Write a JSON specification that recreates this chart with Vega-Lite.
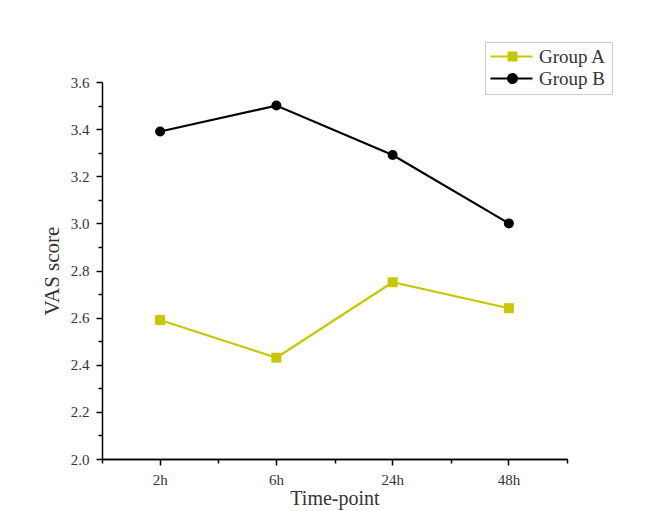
{
  "$schema": "https://vega.github.io/schema/vega-lite/v6.json",
  "autosize": "none",
  "padding": {"left": 102, "top": 82, "right": 78, "bottom": 52},
  "width": 465,
  "height": 377,
  "background": "white",
  "config": {
    "view": {"stroke": null},
    "font": "Liberation Serif"
  },
  "data": {
    "values": [
      {"time": "2h", "group": "Group A", "score": 2.59},
      {"time": "6h", "group": "Group A", "score": 2.43},
      {"time": "24h", "group": "Group A", "score": 2.75},
      {"time": "48h", "group": "Group A", "score": 2.64},
      {"time": "2h", "group": "Group B", "score": 3.39},
      {"time": "6h", "group": "Group B", "score": 3.50},
      {"time": "24h", "group": "Group B", "score": 3.29},
      {"time": "48h", "group": "Group B", "score": 3.00}
    ]
  },
  "encoding": {
    "y": {
      "field": "score",
      "type": "quantitative",
      "scale": {"domain": [2.0, 3.6], "nice": false, "zero": false},
      "axis": {
        "title": "VAS score",
        "values": [2.0, 2.1, 2.2, 2.3, 2.4, 2.5, 2.6, 2.7, 2.8, 2.9, 3.0, 3.1, 3.2, 3.3, 3.4, 3.5, 3.6],
        "labelExpr": "round(datum.value*10) % 2 === 0 ? format(datum.value, '.1f') : ''",
        "tickSize": {"condition": {"test": "round(datum.value*10) % 2 === 1", "value": 4}, "value": 6},
        "grid": false,
        "domainColor": "#000000",
        "domainWidth": 1.5,
        "tickColor": "#000000",
        "tickWidth": 1.5,
        "labelFont": "Liberation Serif",
        "labelFontSize": 15,
        "labelColor": "#333333",
        "labelPadding": 7,
        "titleFont": "Liberation Serif",
        "titleFontSize": 21,
        "titleFontWeight": "normal",
        "titleColor": "#333333",
        "titlePadding": 8
      }
    },
    "color": {
      "field": "group",
      "type": "nominal",
      "scale": {"domain": ["Group A", "Group B"], "range": ["#c8c800", "#000000"]},
      "legend": {
        "title": null,
        "orient": "none",
        "legendX": 383,
        "legendY": -40,
        "padding": 5,
        "strokeColor": "#cccccc",
        "fillColor": "white",
        "symbolSize": 100,
        "symbolOpacity": 1,
        "labelFont": "Liberation Serif",
        "labelFontSize": 19,
        "labelColor": "#333333",
        "labelOffset": 30,
        "rowPadding": 2,
        "encode": {
          "symbols": {
            "update": {
              "shape": {"signal": "datum.index === 0 ? 'M-1.8,-0.2H6.6V0.2H-1.8Z M1.6,-1H3.6V1H1.6Z' : 'M-1.8,-0.2H6.6V0.2H-1.8Z M1.5,0A1.1,1.1 0 1,1 3.7,0A1.1,1.1 0 1,1 1.5,0Z'"},
              "fill": {"scale": "color", "field": "value"},
              "strokeWidth": {"value": 0},
              "opacity": {"value": 1}
            }
          }
        }
      }
    }
  },
  "layer": [
    {
      "mark": {"type": "line", "strokeWidth": 2.2},
      "encoding": {
        "x": {
          "field": "time",
          "type": "nominal",
          "sort": ["2h", "6h", "24h", "48h"],
          "scale": {"type": "band", "paddingInner": 0, "paddingOuter": 0},
          "axis": {
            "orient": "bottom",
            "title": null,
            "labels": false,
            "tickBand": "extent",
            "tickSize": 4,
            "tickColor": "#000000",
            "tickWidth": 1.5,
            "domainColor": "#000000",
            "domainWidth": 1.5,
            "grid": false
          }
        }
      }
    },
    {
      "mark": {"type": "point", "filled": true, "size": 100, "opacity": 1},
      "encoding": {
        "x": {
          "field": "time",
          "type": "nominal",
          "sort": ["2h", "6h", "24h", "48h"],
          "axis": {
            "orient": "bottom",
            "title": "Time-point",
            "labelAngle": 0,
            "tickSize": 6,
            "tickColor": "#000000",
            "tickWidth": 1.5,
            "domainColor": "#000000",
            "domainWidth": 1.5,
            "grid": false,
            "labelFont": "Liberation Serif",
            "labelFontSize": 15,
            "labelColor": "#333333",
            "labelPadding": 7,
            "titleFont": "Liberation Serif",
            "titleFontSize": 20,
            "titleFontWeight": "normal",
            "titleColor": "#333333",
            "titlePadding": 1
          }
        },
        "shape": {
          "condition": {"test": "datum.group === 'Group A'", "value": "square"},
          "value": "circle"
        }
      }
    }
  ],
  "resolve": {"axis": {"x": "independent"}}
}
